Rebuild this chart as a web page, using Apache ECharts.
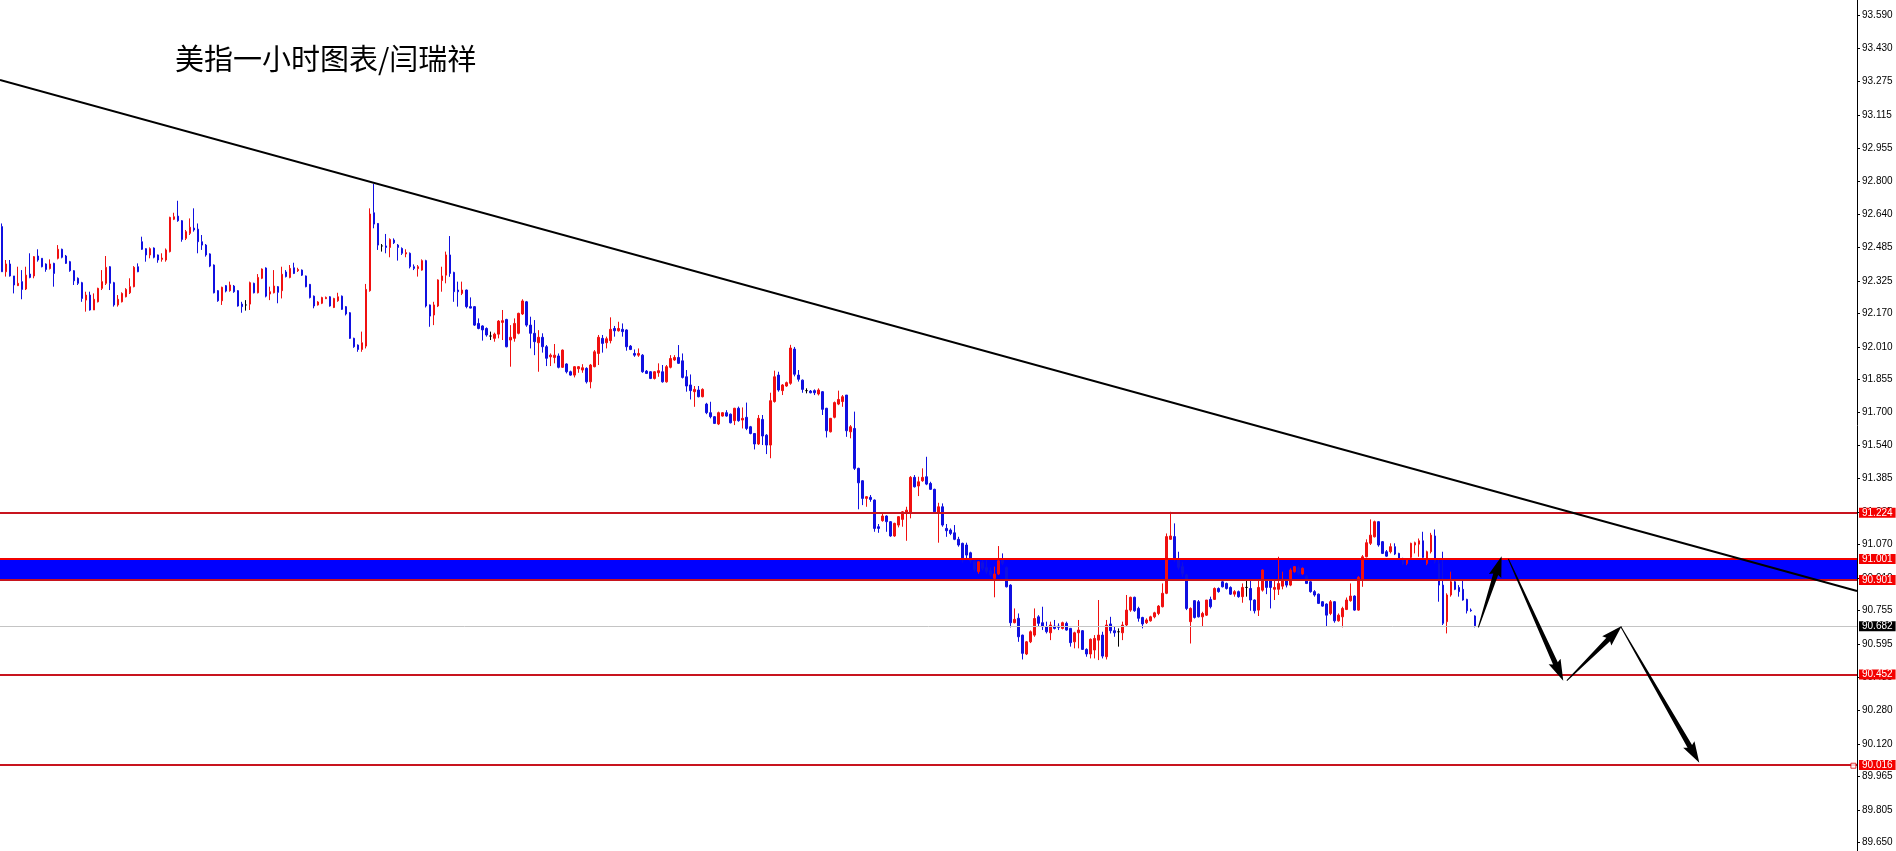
<!DOCTYPE html>
<html><head><meta charset="utf-8">
<script src="https://cdn.jsdelivr.net/npm/echarts@6/dist/echarts.min.js"></script>
<style>html,body{margin:0;padding:0;background:#fff;overflow:hidden}#c{width:1896px;height:851px}</style>
</head><body><div id="c"></div>
<script>
const chartTitle = '美指一小时图表/闫瑞祥';
const slotCount = 464;
// [open, close, low, high]
const ohlc = [
[92.583,92.368,92.368,92.598],[92.368,92.405,92.345,92.424],[92.405,92.348,92.345,92.424],[92.348,92.305,92.265,92.348],
[92.302,92.313,92.300,92.392],[92.321,92.284,92.237,92.376],[92.286,92.352,92.281,92.392],[92.357,92.341,92.337,92.456],
[92.348,92.440,92.337,92.443],[92.443,92.424,92.416,92.475],[92.432,92.392,92.389,92.432],[92.405,92.379,92.368,92.408],
[92.383,92.405,92.379,92.427],[92.408,92.360,92.297,92.411],[92.432,92.475,92.427,92.495],[92.475,92.437,92.432,92.478],
[92.443,92.408,92.405,92.448],[92.416,92.373,92.368,92.420],[92.373,92.325,92.305,92.376],[92.337,92.313,92.305,92.341],
[92.316,92.241,92.225,92.320],[92.233,92.257,92.178,92.273],[92.257,92.186,92.183,92.273],[92.186,92.237,92.186,92.265],
[92.225,92.289,92.222,92.292],[92.289,92.321,92.281,92.376],[92.313,92.389,92.305,92.443],[92.392,92.313,92.281,92.395],
[92.316,92.210,92.202,92.320],[92.210,92.237,92.202,92.257],[92.225,92.265,92.222,92.270],[92.249,92.284,92.246,92.290],
[92.268,92.297,92.262,92.337],[92.297,92.389,92.294,92.395],[92.392,92.368,92.366,92.408],[92.511,92.475,92.472,92.535],
[92.478,92.448,92.416,92.480],[92.448,92.478,92.432,92.484],[92.481,92.437,92.432,92.484],[92.448,92.424,92.411,92.450],
[92.427,92.433,92.416,92.456],[92.424,92.472,92.416,92.479],[92.464,92.627,92.460,92.630],[92.618,92.630,92.614,92.649],
[92.633,92.611,92.606,92.706],[92.611,92.522,92.511,92.614],[92.527,92.559,92.519,92.567],[92.551,92.580,92.543,92.622],
[92.576,92.567,92.559,92.670],[92.571,92.511,92.456,92.598],[92.511,92.495,92.472,92.543],[92.495,92.448,92.440,92.500],
[92.453,92.395,92.390,92.456],[92.400,92.268,92.265,92.403],[92.278,92.230,92.225,92.281],[92.230,92.294,92.210,92.297],
[92.302,92.276,92.270,92.305],[92.278,92.305,92.273,92.321],[92.300,92.273,92.268,92.305],[92.278,92.205,92.202,92.281],
[92.214,92.202,92.173,92.225],[92.210,92.210,92.183,92.233],[92.214,92.316,92.186,92.321],[92.313,92.268,92.265,92.316],
[92.268,92.341,92.265,92.357],[92.337,92.381,92.333,92.384],[92.386,92.252,92.246,92.389],[92.262,92.273,92.233,92.297],
[92.268,92.300,92.265,92.376],[92.297,92.270,92.218,92.300],[92.278,92.356,92.241,92.392],[92.367,92.345,92.341,92.376],
[92.341,92.384,92.337,92.400],[92.387,92.360,92.357,92.411],[92.373,92.379,92.367,92.387],[92.376,92.352,92.348,92.379],
[92.348,92.297,92.294,92.350],[92.308,92.245,92.241,92.310],[92.252,92.205,92.194,92.255],[92.210,92.224,92.207,92.228],
[92.218,92.245,92.214,92.249],[92.240,92.246,92.238,92.250],[92.249,92.205,92.202,92.252],[92.198,92.241,92.195,92.244],
[92.230,92.249,92.225,92.268],[92.252,92.189,92.186,92.255],[92.202,92.167,92.160,92.205],[92.173,92.051,92.048,92.176],
[92.051,92.011,92.006,92.054],[92.019,91.998,91.987,92.022],[91.998,92.030,91.987,92.083],[92.014,92.284,92.003,92.310],
[92.278,92.643,92.273,92.670],[92.649,92.595,92.575,92.786],[92.598,92.495,92.472,92.600],[92.491,92.491,92.464,92.500],
[92.491,92.484,92.456,92.548],[92.484,92.522,92.437,92.527],[92.519,92.506,92.500,92.527],[92.495,92.484,92.421,92.500],
[92.479,92.456,92.448,92.484],[92.453,92.459,92.437,92.475],[92.456,92.392,92.384,92.460],[92.392,92.384,92.376,92.403],
[92.383,92.392,92.345,92.400],[92.376,92.421,92.373,92.427],[92.421,92.205,92.198,92.425],[92.210,92.157,92.106,92.212],
[92.162,92.210,92.114,92.225],[92.205,92.329,92.200,92.332],[92.326,92.348,92.273,92.392],[92.352,92.448,92.313,92.464],
[92.448,92.360,92.344,92.538],[92.365,92.273,92.225,92.368],[92.281,92.273,92.202,92.321],[92.265,92.281,92.257,92.321],
[92.281,92.202,92.194,92.283],[92.202,92.195,92.194,92.246],[92.202,92.114,92.110,92.205],[92.122,92.098,92.094,92.146],
[92.110,92.091,92.040,92.113],[92.098,92.067,92.059,92.103],[92.062,92.062,92.043,92.083],[92.051,92.071,92.035,92.078],
[92.071,92.133,92.051,92.138],[92.127,92.135,92.043,92.186],[92.141,92.011,92.008,92.144],[92.043,92.056,91.916,92.114],
[92.051,92.122,92.035,92.146],[92.075,92.170,92.070,92.173],[92.167,92.229,92.162,92.237],[92.225,92.114,92.106,92.229],
[92.114,92.075,92.003,92.154],[92.075,92.035,91.971,92.138],[92.030,92.056,91.892,92.090],[92.056,92.011,91.983,92.075],
[92.011,91.956,91.919,92.019],[91.963,91.971,91.919,91.979],[91.960,91.971,91.932,92.024],[91.967,91.913,91.908,91.979],
[91.913,91.995,91.910,91.998],[91.929,91.892,91.884,91.932],[91.892,91.876,91.873,91.897],[91.876,91.916,91.865,91.919],
[91.906,91.916,91.887,91.919],[91.900,91.911,91.887,91.928],[91.908,91.844,91.836,91.913],[91.844,91.924,91.813,91.929],
[91.916,91.987,91.913,91.995],[91.979,92.056,91.924,92.067],[92.051,92.027,91.983,92.067],[92.030,92.049,92.003,92.059],
[92.040,92.094,92.027,92.151],[92.098,92.087,92.059,92.110],[92.087,92.098,92.083,92.130],[92.094,92.083,92.059,92.122],
[92.091,92.011,91.992,92.094],[92.014,91.998,91.995,92.019],[91.979,91.971,91.963,91.998],[91.971,91.979,91.963,92.003],
[91.971,91.892,91.887,91.976],[91.895,91.884,91.881,91.900],[91.892,91.860,91.857,91.895],[91.860,91.892,91.855,91.895],
[91.887,91.897,91.868,91.932],[91.892,91.844,91.840,91.924],[91.844,91.916,91.840,91.924],[91.913,91.955,91.908,91.971],
[91.948,91.960,91.944,91.971],[91.960,91.932,91.929,92.019],[91.944,91.865,91.860,91.979],[91.868,91.824,91.797,91.900],
[91.829,91.802,91.760,91.879],[91.797,91.808,91.725,91.824],[91.805,91.773,91.770,91.824],[91.773,91.808,91.770,91.813],
[91.738,91.697,91.690,91.744],[91.697,91.678,91.670,91.749],[91.678,91.646,91.643,91.681],[91.643,91.697,91.638,91.702],
[91.681,91.697,91.678,91.700],[91.697,91.681,91.678,91.709],[91.690,91.649,91.646,91.693],[91.659,91.718,91.638,91.720],
[91.718,91.659,91.654,91.726],[91.662,91.670,91.622,91.722],[91.675,91.622,91.614,91.745],[91.630,91.598,91.594,91.634],
[91.598,91.548,91.522,91.600],[91.548,91.670,91.543,91.686],[91.665,91.586,91.543,91.686],[91.590,91.543,91.500,91.595],
[91.543,91.754,91.480,91.792],[91.750,91.868,91.745,91.897],[91.876,91.805,91.797,91.892],[91.802,91.829,91.781,91.833],
[91.824,91.840,91.820,91.845],[91.837,92.005,91.830,92.020],[92.000,91.880,91.870,92.010],[91.876,91.856,91.845,91.900],
[91.852,91.808,91.792,91.855],[91.802,91.802,91.789,91.813],[91.800,91.792,91.789,91.805],[91.802,91.792,91.781,91.808],
[91.786,91.805,91.779,91.813],[91.797,91.713,91.686,91.800],[91.718,91.611,91.579,91.720],[91.606,91.670,91.603,91.672],
[91.675,91.745,91.670,91.750],[91.738,91.760,91.733,91.802],[91.750,91.773,91.725,91.781],[91.781,91.611,91.582,91.781],
[91.606,91.630,91.575,91.638],[91.622,91.432,91.424,91.702],[91.432,91.363,91.237,91.435],[91.373,91.289,91.257,91.375],
[91.289,91.297,91.249,91.300],[91.294,91.284,91.273,91.305],[91.281,91.146,91.130,91.284],[91.154,91.146,91.125,91.167],
[91.183,91.205,91.178,91.217],[91.205,91.178,91.130,91.208],[91.178,91.110,91.106,91.181],[91.110,91.170,91.106,91.173],
[91.162,91.202,91.151,91.205],[91.189,91.225,91.154,91.228],[91.220,91.233,91.087,91.249],[91.221,91.389,91.194,91.395],
[91.389,91.344,91.341,91.400],[91.348,91.368,91.300,91.392],[91.373,91.389,91.368,91.432],[91.392,91.357,91.352,91.487],
[91.360,91.332,91.329,91.368],[91.332,91.225,91.221,91.335],[91.221,91.249,91.078,91.268],[91.249,91.162,91.154,91.265],
[91.146,91.135,91.106,91.167],[91.138,91.122,91.114,91.146],[91.125,91.094,91.090,91.162],[91.094,91.067,91.059,91.106],
[91.075,90.995,90.983,91.078],[91.067,91.019,91.003,91.078],[91.030,90.992,90.980,91.035],[90.990,90.950,90.940,91.000],
[90.940,90.987,90.930,90.990],[90.985,90.955,90.945,90.995],[90.960,90.940,90.930,90.995],[90.945,90.925,90.915,90.960],
[90.908,90.929,90.818,90.964],[90.929,90.992,90.924,91.062],[90.998,90.979,90.971,91.027],[90.960,90.868,90.865,90.965],
[90.876,90.697,90.675,90.880],[90.697,90.713,90.694,90.765],[90.718,90.630,90.606,90.741],[90.638,90.551,90.522,90.640],
[90.548,90.606,90.543,90.610],[90.606,90.654,90.600,90.660],[90.638,90.717,90.630,90.765],[90.725,90.694,90.678,90.733],
[90.697,90.678,90.662,90.773],[90.678,90.654,90.646,90.702],[90.649,90.686,90.614,90.702],[90.681,90.670,90.665,90.710],
[90.681,90.675,90.662,90.694],[90.670,90.697,90.665,90.702],[90.694,90.662,90.659,90.702],[90.670,90.602,90.583,90.672],
[90.606,90.649,90.575,90.654],[90.649,90.662,90.575,90.710],[90.659,90.570,90.567,90.662],[90.570,90.548,90.535,90.575],
[90.548,90.618,90.527,90.622],[90.567,90.622,90.527,90.638],[90.614,90.638,90.519,90.805],[90.638,90.538,90.527,90.654],
[90.535,90.686,90.522,90.710],[90.691,90.659,90.646,90.725],[90.659,90.649,90.630,90.678],[90.654,90.654,90.583,90.670],
[90.649,90.686,90.614,90.702],[90.686,90.757,90.678,90.829],[90.757,90.818,90.749,90.821],[90.818,90.754,90.749,90.821],
[90.765,90.718,90.702,90.773],[90.722,90.691,90.670,90.725],[90.697,90.710,90.691,90.718],[90.706,90.725,90.702,90.730],
[90.725,90.744,90.718,90.749],[90.741,90.776,90.733,90.781],[90.773,90.837,90.770,90.884],[90.837,91.107,90.833,91.122],
[91.094,91.110,91.091,91.225],[91.107,90.995,90.987,91.170],[90.995,90.960,90.950,91.035],[90.965,90.930,90.915,90.985],
[90.925,90.765,90.757,90.930],[90.702,90.765,90.598,90.770],[90.802,90.722,90.717,90.805],[90.797,90.725,90.722,90.805],
[90.725,90.741,90.681,90.749],[90.733,90.805,90.729,90.805],[90.808,90.773,90.765,90.821],[90.808,90.860,90.805,90.865],
[90.860,90.845,90.840,90.865],[90.892,90.868,90.865,90.900],[90.884,90.860,90.855,90.888],[90.865,90.833,90.829,90.870],
[90.833,90.845,90.821,90.852],[90.845,90.821,90.816,90.850],[90.821,90.865,90.792,90.884],[90.865,90.865,90.821,90.900],
[90.860,90.805,90.754,90.900],[90.805,90.754,90.741,90.808],[90.757,90.865,90.729,90.900],[90.852,90.948,90.845,90.951],
[90.900,90.865,90.833,90.903],[90.897,90.865,90.765,90.900],[90.856,90.865,90.805,90.900],[90.856,90.884,90.829,91.011],
[90.871,90.900,90.856,90.940],[90.900,90.876,90.865,90.903],[90.876,90.948,90.871,90.956],[90.940,90.964,90.935,90.967],
[90.960,90.930,90.925,90.970],[90.929,90.956,90.925,90.960],[90.919,90.884,90.881,90.924],[90.892,90.845,90.840,90.895],
[90.845,90.829,90.821,90.852],[90.833,90.789,90.786,90.836],[90.797,90.776,90.773,90.800],[90.786,90.733,90.681,90.789],
[90.741,90.797,90.733,90.805],[90.797,90.706,90.697,90.800],[90.706,90.733,90.702,90.741],[90.725,90.765,90.675,90.773],
[90.760,90.805,90.757,90.817],[90.802,90.824,90.797,90.884],[90.824,90.757,90.754,90.827],[90.757,90.913,90.754,90.919],
[90.900,91.011,90.868,91.019],[91.011,91.078,91.008,91.094],[91.075,91.114,91.067,91.189],[91.106,91.178,91.103,91.183],
[91.178,91.067,91.059,91.180],[91.083,91.027,91.024,91.086],[91.035,91.014,91.011,91.043],[91.035,91.059,91.027,91.075],
[91.059,91.024,91.019,91.075],[91.027,91.003,90.995,91.030],[91.003,90.976,90.970,91.006],[90.979,90.998,90.971,91.003],
[91.008,91.075,90.998,91.078],[91.067,91.078,91.027,91.083],[91.071,91.087,91.011,91.098],[91.087,91.008,91.003,91.130],
[90.979,91.035,90.971,91.040],[91.035,91.114,91.027,91.125],[91.110,90.987,90.979,91.141],[90.980,90.876,90.797,90.995],
[90.876,90.694,90.686,91.035],[90.702,90.829,90.646,90.837],[90.829,90.892,90.821,90.940],[90.892,90.856,90.852,90.900],
[90.865,90.845,90.821,90.876],[90.856,90.805,90.802,90.900],[90.808,90.754,90.741,90.811],[90.757,90.754,90.749,90.765],
[90.729,90.682,90.675,90.732]
];
const tickLabels = [89.650,89.805,89.965,90.120,90.280,90.435,90.595,90.755,90.910,91.070,91.225,91.385,91.540,91.700,91.855,92.010,92.170,92.325,92.485,92.640,92.800,92.955,93.115,93.275,93.430,93.590];
const priceMin = 89.610, priceMax = 93.662;
const redLevels = [91.224, 91.001, 90.901, 90.452, 90.016];
const bandRange = [90.901, 91.001];
const lastPrice = 90.682;
const trendline = [[-0.5, 93.281], [463.5, 90.848]];
// [fromSlot, fromPrice, toSlot, toPrice]
const arrows = [
  [368.9, 90.675, 374.7, 91.014],
  [376.4, 91.000, 390.1, 90.421],
  [391.0, 90.421, 404.7, 90.681],
  [404.5, 90.678, 424.1, 90.030]
];
const anchorPoint = [462.6, 90.016];

const slots = Array.from({length: slotCount}, (_, i) => String(i));
const lblFont = 'Liberation Sans';
const chart = echarts.init(document.getElementById('c'), null, {renderer: 'canvas'});

const markLineData = redLevels.map(v => ({
  yAxis: v,
  lineStyle: {color: v === 91.001 ? '#f20000' : '#c8141e', width: 2, type: 'solid'},
  label: {show: true, position: 'end', distance: 2, formatter: () => v.toFixed(3),
    color: '#fff', backgroundColor: '#f40000', padding: [0, 3, 0, 3], fontSize: 10, lineHeight: 10, fontFamily: lblFont}
}));
markLineData.push({
  yAxis: lastPrice,
  lineStyle: {color: '#c4c4c4', width: 1, type: 'solid'},
  label: {show: true, position: 'end', distance: 2, formatter: () => lastPrice.toFixed(3),
    color: '#fff', backgroundColor: '#000', padding: [0, 3, 0, 3], fontSize: 10, lineHeight: 10, fontFamily: lblFont}
});

chart.setOption({
  animation: false,
  backgroundColor: '#fff',
  title: {text: chartTitle, left: 175, top: 44, padding: 0,
    textStyle: {fontSize: 29, fontWeight: 'normal', color: '#000', fontFamily: 'Noto Sans CJK SC'}},
  grid: {left: 0, right: 39, top: 0, bottom: 0, containLabel: false},
  xAxis: [
    {type: 'category', data: slots, boundaryGap: true, show: false},
    {type: 'value', min: -0.5, max: slotCount - 0.5, show: false}
  ],
  yAxis: {
    type: 'value', position: 'right', min: priceMin, max: priceMax, scale: true,
    splitLine: {show: false},
    axisLine: {show: true, onZero: false, lineStyle: {color: '#000', width: 1}},
    axisTick: {show: true, length: 3, customValues: tickLabels, lineStyle: {color: '#000'}},
    axisLabel: {customValues: tickLabels, formatter: v => Number(v).toFixed(3), color: '#000', fontSize: 10, fontFamily: lblFont, margin: 5}
  },
  series: [
    {
      type: 'candlestick', xAxisIndex: 0, data: ohlc, barWidth: 2, z: 2,
      itemStyle: {color: '#f01010', color0: '#1010e0', borderColor: '#f01010', borderColor0: '#1010e0', borderColorDoji: '#000', borderWidth: 1},
      emphasis: {disabled: true},
      markArea: {silent: true, itemStyle: {color: '#0000ff', opacity: 1},
        data: [[{yAxis: bandRange[1]}, {yAxis: bandRange[0]}]]},
      markLine: {silent: true, symbol: ['none', 'none'], animation: false, data: markLineData}
    },
    {
      type: 'line', xAxisIndex: 1, data: trendline, symbol: 'none', z: 6,
      lineStyle: {color: '#000', width: 2}, silent: true
    },
    {
      type: 'custom', xAxisIndex: 1, data: arrows, z: 7, silent: true,
      encode: {x: [0, 2], y: [1, 3]},
      renderItem: (params, api) => {
        const a = api.coord([api.value(0), api.value(1)]);
        const b = api.coord([api.value(2), api.value(3)]);
        const dx = b[0] - a[0], dy = b[1] - a[1];
        const len = Math.hypot(dx, dy);
        const ux = dx / len, uy = dy / len, nx = -uy, ny = ux;
        const headLen = 19, headHalf = 6.5, shaftEnd = 2.6, shaftStart = 0.5;
        const bx = b[0] - ux * headLen, by = b[1] - uy * headLen;
        const pts = [
          [a[0] + nx * shaftStart, a[1] + ny * shaftStart],
          [bx + nx * shaftEnd, by + ny * shaftEnd],
          [bx - ux * 2 + nx * headHalf, by - uy * 2 + ny * headHalf],
          [b[0], b[1]],
          [bx - ux * 2 - nx * headHalf, by - uy * 2 - ny * headHalf],
          [bx - nx * shaftEnd, by - ny * shaftEnd],
          [a[0] - nx * shaftStart, a[1] - ny * shaftStart]
        ];
        return {type: 'polygon', shape: {points: pts}, style: {fill: '#000'}};
      }
    },
    {
      type: 'scatter', xAxisIndex: 1, data: [anchorPoint], symbol: 'rect', symbolSize: 5, z: 8, silent: true,
      itemStyle: {color: '#fff', borderColor: '#e00000', borderWidth: 1}
    }
  ]
});
</script>
</body></html>
